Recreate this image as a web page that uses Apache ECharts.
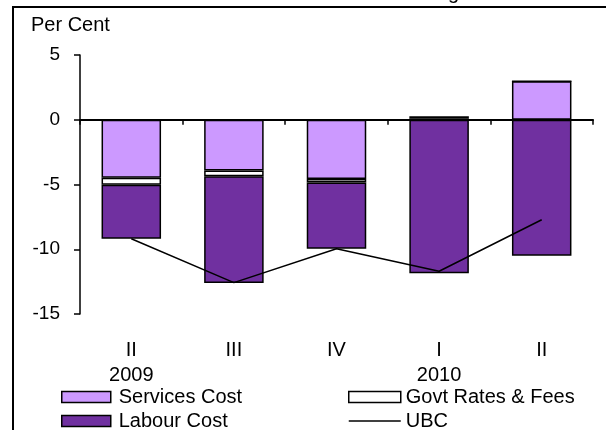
<!DOCTYPE html>
<html>
<head>
<meta charset="utf-8">
<script src="https://cdn.jsdelivr.net/npm/echarts@6/dist/echarts.min.js"></script>
<style>
html,body{margin:0;padding:0;background:#fff;}
#c{width:606px;height:430px;}
</style>
</head>
<body>
<div id="c"></div>
<script>
var categories = ['II\n2009', 'III', 'IV', 'I\n2010', 'II'];
var servicesCost = [-4.48, -3.91, -4.58, 0.12, 2.98];
var govtRatesFees = [-0.54, -0.46, -0.26, 0.15, 0];
var labourCost = [-4.17, -8.23, -5.12, -11.85, -10.5];
var ubc = [-9.19, -12.58, -9.96, -11.7, -7.72];
var yTicks = {min: -15, max: 5, interval: 5};

var FONT = 'Liberation Sans, Arial, sans-serif';
var chart = echarts.init(document.getElementById('c'), null, {renderer: 'canvas'});
var barBorder = {borderColor: '#000', borderWidth: 1.5};
var legendText = {fontSize: 20, lineHeight: 20, color: '#000', fontFamily: FONT};
chart.setOption({
  animation: false,
  backgroundColor: '#fff',
  textStyle: {fontFamily: FONT, color: '#000'},
  grid: {left: 80, right: 13, top: 55, bottom: 116, containLabel: false},
  graphic: [
    {type: 'rect', shape: {x: 13, y: 7, width: 700, height: 500}, style: {fill: 'none', stroke: '#000', lineWidth: 2}, silent: true, z: 0},
    {type: 'text', x: 31, y: 25, style: {text: 'Per Cent', font: '20px ' + FONT, fill: '#000', verticalAlign: 'middle', align: 'left'}},
    {type: 'text', x: 459, y: 3, style: {text: 'for Manufacturing', font: '20px ' + FONT, fill: '#000', verticalAlign: 'bottom', align: 'right'}}
  ],
  xAxis: [
    {
      type: 'category', data: categories, position: 'top',
      axisLine: {show: true, onZero: true, lineStyle: {color: '#000', width: 2}},
      axisTick: {show: true, inside: true, length: 5, lineStyle: {color: '#000', width: 1.5}},
      axisLabel: {show: false}, splitLine: {show: false}, z: 5
    },
    {
      type: 'category', data: categories, position: 'bottom',
      axisLine: {show: false, onZero: false}, axisTick: {show: false},
      axisLabel: {show: true, margin: 24, fontSize: 20, lineHeight: 25, color: '#000', fontFamily: FONT, interval: 0},
      splitLine: {show: false}
    }
  ],
  yAxis: {
    type: 'value', min: yTicks.min, max: yTicks.max, interval: yTicks.interval,
    axisLine: {show: true, lineStyle: {color: '#000', width: 1.5}},
    axisTick: {show: true, length: 6, lineStyle: {color: '#000', width: 1.5}},
    axisLabel: {margin: 20, fontSize: 19, color: '#000', fontFamily: FONT},
    splitLine: {show: false}
  },
  legend: [
    {
      orient: 'vertical', left: 61, top: 387, height: 80, padding: 0, icon: 'rect',
      itemWidth: 49, itemHeight: 11, itemGap: 4,
      data: ['Services Cost', 'Labour Cost'],
      textStyle: Object.assign({padding: [0, 0, 0, 3]}, legendText),
      itemStyle: {borderColor: '#000', borderWidth: 1.5}
    },
    {
      orient: 'vertical', left: 348, top: 387, height: 80, padding: 0, icon: 'rect',
      itemWidth: 52, itemHeight: 11, itemGap: 4,
      data: [
        'Govt Rates & Fees',
        {name: 'UBC', icon: 'path://M0,0 H52 V1.5 H0 Z', itemStyle: {color: '#000', borderWidth: 0}}
      ],
      textStyle: Object.assign({padding: [0, 0, 0, 0]}, legendText),
      itemStyle: {borderColor: '#000', borderWidth: 1.5}
    }
  ],
  series: [
    {name: 'Services Cost', type: 'bar', stack: 'a', data: servicesCost, barWidth: '58%',
      itemStyle: Object.assign({color: '#CC99FF'}, barBorder)},
    {name: 'Govt Rates & Fees', type: 'bar', stack: 'a', data: govtRatesFees,
      itemStyle: Object.assign({color: '#FFFFFF'}, barBorder)},
    {name: 'Labour Cost', type: 'bar', stack: 'a', data: labourCost,
      itemStyle: Object.assign({color: '#7030A0'}, barBorder)},
    {name: 'UBC', type: 'line', data: ubc, symbol: 'none', z: 10,
      lineStyle: {color: '#000', width: 1.5}, itemStyle: {color: '#000'}}
  ]
});
</script>
</body>
</html>
